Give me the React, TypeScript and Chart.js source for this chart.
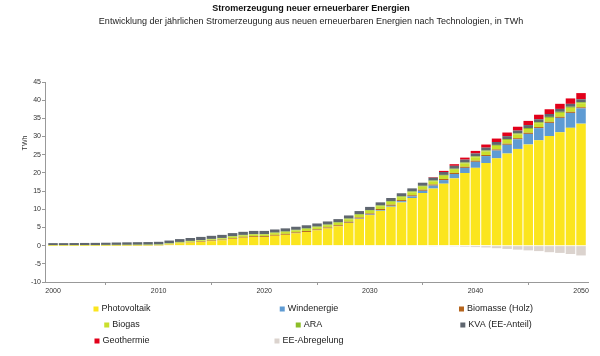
import React, { useEffect, useRef } from 'react';
import { Chart, registerables } from 'chart.js';

Chart.register(...registerables);

const TITLE = 'Stromerzeugung neuer erneuerbarer Energien';
const SUBTITLE = 'Entwicklung der jährlichen Stromerzeugung aus neuen erneuerbaren Energien nach Technologien, in TWh';
const Y_TITLE = 'TWh';

const years = [
  2000, 2001, 2002, 2003, 2004, 2005, 2006, 2007, 2008, 2009,
  2010, 2011, 2012, 2013, 2014, 2015, 2016, 2017, 2018, 2019,
  2020, 2021, 2022, 2023, 2024, 2025, 2026, 2027, 2028, 2029,
  2030, 2031, 2032, 2033, 2034, 2035, 2036, 2037, 2038, 2039,
  2040, 2041, 2042, 2043, 2044, 2045, 2046, 2047, 2048, 2049,
  2050,
];

const photovoltaik = [
  0.01, 0.01, 0.01, 0.01, 0.02, 0.02, 0.02, 0.03, 0.03, 0.05,
  0.08, 0.33, 0.65, 0.85, 1.02, 1.23, 1.45, 1.89, 2.19, 2.4,
  2.37, 2.72, 2.98, 3.38, 3.75, 4.2, 4.72, 5.32, 6.24, 7.35,
  8.4, 9.58, 10.7, 11.88, 13.1, 14.48, 15.7, 17.03, 18.5, 19.98,
  21.4, 22.73, 24.0, 25.33, 26.6, 27.83, 28.96, 30.15, 31.18, 32.4,
  33.55,
];

const windenergie = [
  0, 0, 0, 0, 0, 0, 0, 0, 0, 0,
  0, 0, 0, 0, 0, 0, 0, 0, 0, 0,
  0, 0, 0, 0, 0, 0, 0, 0, 0.05, 0.1,
  0.15, 0.2, 0.25, 0.35, 0.45, 0.6, 0.8, 1.0, 1.2, 1.4,
  1.65, 1.9, 2.15, 2.4, 2.65, 2.9, 3.35, 3.6, 3.95, 4.1,
  4.2,
];

const biomasse = [
  0.01, 0.01, 0.01, 0.02, 0.02, 0.02, 0.03, 0.03, 0.04, 0.04,
  0.05, 0.08, 0.1, 0.13, 0.16, 0.19, 0.2, 0.21, 0.22, 0.23,
  0.23, 0.24, 0.25, 0.26, 0.26, 0.27, 0.27, 0.28, 0.28, 0.29,
  0.3, 0.3, 0.3, 0.3, 0.3, 0.3, 0.3, 0.3, 0.3, 0.3,
  0.3, 0.3, 0.3, 0.3, 0.3, 0.3, 0.3, 0.3, 0.3, 0.3,
  0.3,
];

const biogas = [
  0.05, 0.05, 0.05, 0.06, 0.06, 0.07, 0.07, 0.08, 0.08, 0.09,
  0.1, 0.13, 0.16, 0.2, 0.25, 0.3, 0.33, 0.36, 0.4, 0.42,
  0.45, 0.48, 0.51, 0.54, 0.57, 0.6, 0.63, 0.66, 0.69, 0.72,
  0.75, 0.77, 0.79, 0.81, 0.83, 0.85, 0.87, 0.89, 0.91, 0.93,
  0.95, 0.97, 0.99, 1.01, 1.03, 1.05, 1.06, 1.07, 1.08, 1.09,
  1.1,
];

const ara = [
  0.07, 0.07, 0.08, 0.08, 0.08, 0.09, 0.09, 0.09, 0.1, 0.1,
  0.1, 0.11, 0.11, 0.12, 0.12, 0.13, 0.13, 0.14, 0.14, 0.15,
  0.15, 0.155, 0.16, 0.165, 0.17, 0.175, 0.18, 0.185, 0.19, 0.195,
  0.2, 0.205, 0.21, 0.215, 0.22, 0.225, 0.23, 0.235, 0.24, 0.245,
  0.25, 0.255, 0.26, 0.265, 0.27, 0.275, 0.28, 0.285, 0.29, 0.295,
  0.3,
];

const kva = [
  0.55, 0.55, 0.56, 0.57, 0.58, 0.6, 0.65, 0.68, 0.7, 0.7,
  0.72, 0.75, 0.78, 0.8, 0.85, 0.85, 0.85, 0.85, 0.85, 0.85,
  0.85, 0.85, 0.85, 0.85, 0.85, 0.85, 0.85, 0.85, 0.85, 0.85,
  0.85, 0.85, 0.85, 0.85, 0.85, 0.85, 0.8, 0.8, 0.8, 0.8,
  0.8, 0.8, 0.8, 0.8, 0.8, 0.8, 0.8, 0.8, 0.8, 0.8,
  0.8,
];

const geothermie = [
  0, 0, 0, 0, 0, 0, 0, 0, 0, 0,
  0, 0, 0, 0, 0, 0, 0, 0, 0, 0,
  0, 0, 0, 0, 0, 0, 0, 0, 0, 0,
  0, 0, 0, 0, 0, 0, 0.15, 0.3, 0.45, 0.55,
  0.7, 0.85, 0.95, 1.0, 1.05, 1.15, 1.25, 1.3, 1.4, 1.5,
  1.7,
];

const abregelung = [
  0, 0, 0, 0, 0, 0, 0, 0, 0, 0,
  0, 0, 0, 0, 0, 0, 0, 0, 0, 0,
  0, 0, 0, 0, 0, 0, 0, 0, 0, 0,
  0, 0, 0, 0, 0, 0, -0.1, -0.15, -0.2, -0.3,
  -0.4, -0.5, -0.7, -0.9, -1.1, -1.3, -1.5, -1.8, -2.0, -2.3,
  -2.7,
];

const seriesNames = [
  'Photovoltaik', 'Windenergie', 'Biomasse (Holz)', 'Biogas', 'ARA',
  'KVA (EE-Anteil)', 'Geothermie', 'EE-Abregelung',
];
const seriesValues = [photovoltaik, windenergie, biomasse, biogas, ara, kva, geothermie, abregelung];
const seriesColors = [
  '#fbe51e', '#5f9bd3', '#b5641c', '#cadf2c', '#8cbd28', '#5f666f', '#e2001a', '#dbd3ce',
];

// legend layout: rows of series indices
const legendRows = [
  [0, 1, 2],
  [3, 4, 5],
  [6, 7],
];

const FONT = '"Liberation Sans", Arial, Helvetica, sans-serif';

const textPlugin = {
  id: 'textPlugin',
  afterDraw(chart: any) {
    const ctx = chart.ctx as CanvasRenderingContext2D;
    ctx.save();
    ctx.textBaseline = 'middle';
    ctx.textAlign = 'center';
    ctx.fillStyle = '#111';
    ctx.font = `bold 9px ${FONT}`;
    ctx.fillText(TITLE, 311, 9);
    ctx.fillStyle = '#222';
    ctx.font = `9px ${FONT}`;
    ctx.fillText(SUBTITLE, 311, 22);

    // y title
    ctx.save();
    ctx.translate(25, 143);
    ctx.rotate(-Math.PI / 2);
    ctx.fillStyle = '#333';
    ctx.font = `7px ${FONT}`;
    ctx.fillText(Y_TITLE, 0, 0);
    ctx.restore();

    // legend
    const colCenters = [122, 309, 496];
    const rowYs = [309, 325, 341];
    ctx.font = `9px ${FONT}`;
    ctx.textAlign = 'left';
    legendRows.forEach((row, r) => {
      row.forEach((si, c) => {
        const label = seriesNames[si];
        const tw = ctx.measureText(label).width;
        const marker = 5;
        const gap = 3;
        const total = marker + gap + tw;
        const x0 = colCenters[c] - total / 2;
        const y = rowYs[r];
        ctx.fillStyle = seriesColors[si];
        ctx.fillRect(x0, y - marker / 2, marker, marker);
        ctx.fillStyle = '#222';
        ctx.fillText(label, x0 + marker + gap, y);
      });
    });
    ctx.restore();
  },
};

export default function App() {
  const canvasRef = useRef<HTMLCanvasElement | null>(null);

  useEffect(() => {
    const canvas = canvasRef.current;
    if (!canvas) return;
    Chart.defaults.font.family = FONT;

    const datasets = seriesNames.map((name, i) => ({
      label: name,
      data: years.map((yr, j) => ({ x: yr, y: seriesValues[i][j] })),
      backgroundColor: seriesColors[i],
      borderWidth: 0,
      barPercentage: 0.9,
      categoryPercentage: 1,
    }));

    const chart = new Chart(canvas, {
      type: 'bar',
      data: { datasets },
      options: {
        responsive: false,
        animation: false,
        devicePixelRatio: 1,
        layout: { padding: { top: 82, left: 0, right: 12, bottom: 60 } },
        plugins: {
          legend: { display: false },
          title: { display: false },
          tooltip: { enabled: false },
        },
        scales: {
          x: {
            type: 'linear',
            stacked: true,
            min: 1999.24,
            max: 2050.66,
            offset: false,
            grid: { drawOnChartArea: false, tickLength: 3, color: '#999' },
            border: { color: '#999' },
            ticks: {
              stepSize: 10,
              includeBounds: false,
              maxRotation: 0,
              padding: 2,
              color: '#333',
              font: { size: 7, family: FONT },
              callback: (v: any) => String(v),
            },
            afterFit: (s: any) => { s.height = 14; },
          },
          y: {
            stacked: true,
            min: -10,
            max: 45,
            grid: { drawOnChartArea: false, tickLength: 3, color: '#999' },
            border: { color: '#999' },
            ticks: {
              stepSize: 5,
              padding: 1,
              color: '#333',
              font: { size: 7, family: FONT },
            },
            afterFit: (s: any) => { s.width = 45; },
          },
        },
      },
      plugins: [textPlugin],
    });

    return () => chart.destroy();
  }, []);

  return (
    <div style={{ position: 'absolute', left: 0, top: 0, width: 600, height: 356, background: '#fff' }}>
      <canvas ref={canvasRef} width={600} height={356} style={{ display: 'block', width: 600, height: 356 }} />
    </div>
  );
}
